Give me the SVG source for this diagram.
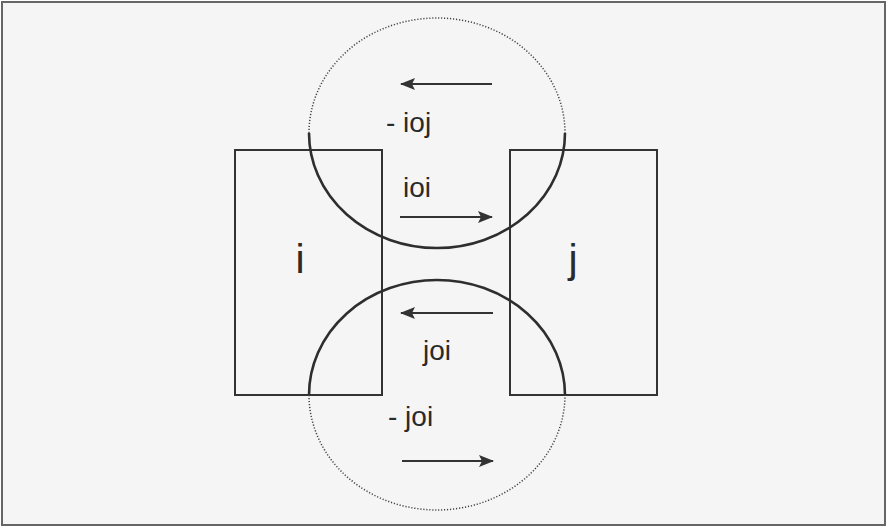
<svg xmlns="http://www.w3.org/2000/svg" width="887" height="528" viewBox="0 0 887 528">
<style>
.frame{fill:#f5f5f5;stroke:#666;stroke-width:2}
.box{fill:none;stroke:#333;stroke-width:2}
.solid{fill:none;stroke:#2e2e2e;stroke-width:2.6}
.dot{fill:none;stroke:#444;stroke-width:1.5;stroke-dasharray:1.2 1.8}
.arr{stroke:#333;stroke-width:2.2;fill:none}
.lbl{font-family:"Liberation Sans",Arial,sans-serif;font-size:28px;fill:#2a2a2a}
.big{font-family:"Liberation Sans",Arial,sans-serif;font-size:41px;fill:#2a2a2a}
</style>
<defs>
<marker id="ah" viewBox="0 0 15 12" refX="14" refY="6" markerWidth="15" markerHeight="12" markerUnits="userSpaceOnUse" orient="auto">
<path d="M0,0 L15,6 L0,12 L3,6 Z" fill="#333"/>
</marker>
</defs>
<rect class="frame" x="2" y="2" width="883" height="523"/>
<g id="node-i">
<rect class="box" x="235" y="150" width="147" height="245"/>
<text class="big" x="300" y="273" text-anchor="middle">i</text>
</g>
<g id="node-j">
<rect class="box" x="510" y="150" width="147" height="245"/>
<text class="big" x="573" y="273" text-anchor="middle">j</text>
</g>
<g id="connectors">
<path class="dot" d="M309,133 A128,115 0 0 1 565,133"/>
<path class="solid" d="M309,133 A128,115 0 0 0 565,133"/>
<path class="solid" d="M309,395 A128,115 0 0 1 565,395"/>
<path class="dot" d="M309,395 A128,115 0 0 0 565,395"/>
<line class="arr" x1="492" y1="84" x2="401" y2="84" marker-end="url(#ah)"/>
<line class="arr" x1="400" y1="217" x2="492" y2="217" marker-end="url(#ah)"/>
<line class="arr" x1="493" y1="313" x2="401" y2="313" marker-end="url(#ah)"/>
<line class="arr" x1="402" y1="461" x2="493" y2="461" marker-end="url(#ah)"/>
</g>
<g id="labels">
<text class="lbl" x="386" y="132">- ioj</text>
<text class="lbl" x="403" y="197">ioi</text>
<text class="lbl" x="423" y="360">joi</text>
<text class="lbl" x="388" y="426">- joi</text>
</g>
</svg>
